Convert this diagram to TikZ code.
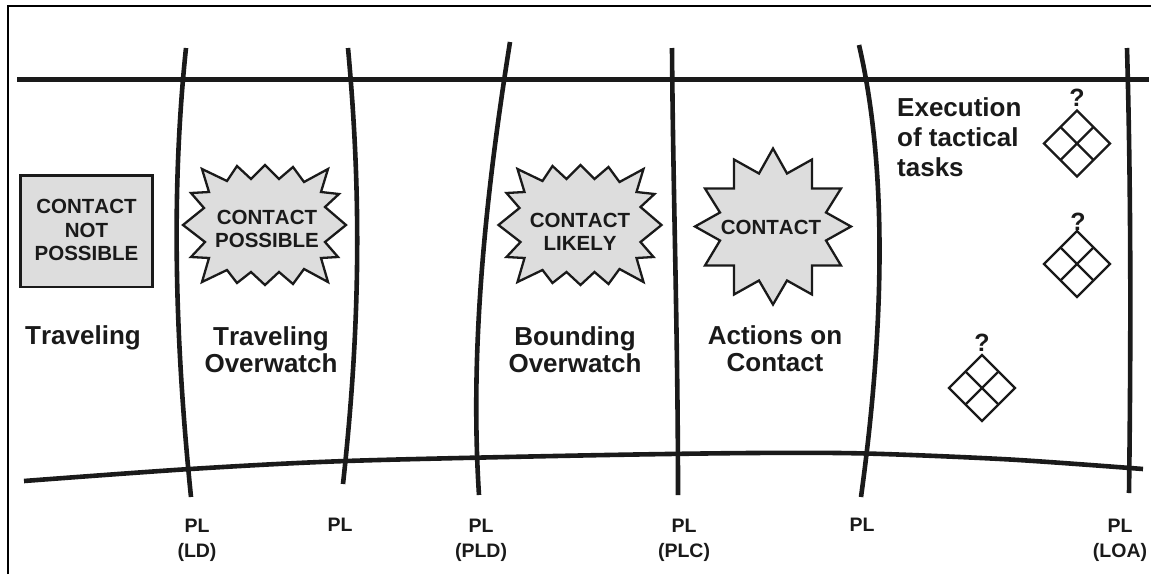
\documentclass[tikz,border=0pt]{standalone}
\usepackage{fontspec}
\setmainfont[Kerning=Off]{Liberation Sans}
\definecolor{ink}{HTML}{1A1A1A}
\definecolor{burstfill}{HTML}{DDDDDD}
\tikzset{
  x=1pt,y=-1pt,
  frameline/.style={black,line width=2pt},
  phaseline/.style={ink,line width=4.6pt},
  burstshape/.style={draw=ink,fill=burstfill,line width=2.3pt,line join=miter},
  gridline/.style={draw=ink,line width=2.3pt,line join=miter},
  inbox/.style={text=ink,align=center,inner sep=0pt,font=\bfseries\fontsize{20.5}{23.5}\selectfont},
  stagelabel/.style={text=ink,align=center,inner sep=0pt,font=\bfseries\fontsize{26}{27.5}\selectfont},
  pllabel/.style={text=ink,align=center,inner sep=0pt,font=\bfseries\fontsize{19.5}{25}\selectfont},
  qmark/.style={text=ink,inner sep=0pt,font=\bfseries\fontsize{25}{25}\selectfont},
}
\newcommand{\wideburst}[2]{%
  \draw[burstshape,shift={(#1,#2)}] (-63,-56)--(-38,-44)--(-28,-59)--(-14,-46)--(0,-60)--(14,-46)--(28,-58)--(39,-43)--(63,-56)--(56,-33)--(74,-31)--(60,-18)--(81,0)--(60,17)--(73,32)--(56,33)--(63,57)--(39,44)--(28,59)--(14,47)--(0,60)--(-14,47)--(-28,58)--(-38,45)--(-63,57)--(-56,33)--(-74,32)--(-60,17)--(-82,0)--(-61,-17)--(-74,-32)--(-56,-33)--cycle;}
\newcommand{\gridmark}[2]{%
  \begin{scope}[shift={(#1,#2)}]
    \draw[gridline] (0,-33)--(33,0)--(0,33)--(-33,0)--cycle;
    \draw[gridline] (-16.5,-16.5)--(16.5,16.5) (16.5,-16.5)--(-16.5,16.5);
  \end{scope}}
\begin{document}
\begin{tikzpicture}
\useasboundingbox (0,0) rectangle (1151,574);
% frame
\draw[frameline] (8,574)--(8,6)--(1151,6);
% lateral boundaries
\draw[phaseline] (17,79.5)--(1149,79.5);
\draw[phaseline] plot[smooth] coordinates {(24,481) (190,469) (346,461) (580,455.5) (751,453) (866,453.5) (1010,459.5) (1143,469)};
% phase lines
\draw[phaseline] (186,48) .. controls (171,190) and (175,340) .. (191,497);
\draw[phaseline] (348,48) .. controls (361,190) and (361,320) .. (343,484);
\draw[phaseline] (510,42) .. controls (488,180) and (469,340) .. (479,495);
\draw[phaseline] (672,48) .. controls (673,190) and (678,340) .. (678,495);
\draw[phaseline] (859,45) .. controls (888,170) and (884,330) .. (861,497);
\draw[phaseline] (1127,48) .. controls (1131,190) and (1131,340) .. (1129,493);
% contact boxes
\draw[burstshape] (20.5,175.5) rectangle (152.5,287);
\node[inbox] (cnp) at (86.5,230) {CONTACT\\NOT\\POSSIBLE};
\wideburst{265}{225}
\node[inbox] (cp) at (267,229) {CONTACT\\POSSIBLE};
\wideburst{580.5}{225}
\node[inbox] (cl) at (580,232) {CONTACT\\LIKELY};
\draw[burstshape,shift={(773,226.5)}] (0,-78)--(14,-53)--(39,-67)--(39,-38)--(68,-38)--(53,-14)--(78,0)--(53,14)--(68,39)--(39,39)--(39,68)--(14,54)--(0,78)--(-14,54)--(-39,68)--(-39,39)--(-68,39)--(-53,14)--(-78,0)--(-53,-14)--(-68,-38)--(-39,-38)--(-39,-67)--(-14,-53)--cycle;
\node[inbox] (cc) at (771,227) {CONTACT};
% stage labels
\node[stagelabel] (s1) at (83,338) {Traveling};
\node[stagelabel] (s2) at (271,349.5) {Traveling\\Overwatch};
\node[stagelabel] (s3) at (575,349.5) {Bounding\\Overwatch};
\node[stagelabel] (s4) at (775,348.5) {Actions on\\Contact};
\node[stagelabel,anchor=west,align=left,font=\bfseries\fontsize{26}{30}\selectfont] (s5) at (897,137) {Execution\\of tactical\\tasks};
% unit marks
\node[qmark] (q1) at (1077,98) {?};
\gridmark{1077}{143.5}
\node[qmark] (q2) at (1078,222) {?};
\gridmark{1077}{264}
\node[qmark] (q3) at (982,343) {?};
\gridmark{982}{388}
% phase line labels
\node[pllabel] (p1) at (197,540) {PL\\(LD)};
\node[pllabel] (p2) at (340,525) {PL};
\node[pllabel] (p3) at (481,540) {PL\\(PLD)};
\node[pllabel] (p4) at (684,540) {PL\\(PLC)};
\node[pllabel] (p5) at (862,525) {PL};
\node[pllabel] (p6) at (1120,540) {PL\\(LOA)};
\end{tikzpicture}
\end{document}
